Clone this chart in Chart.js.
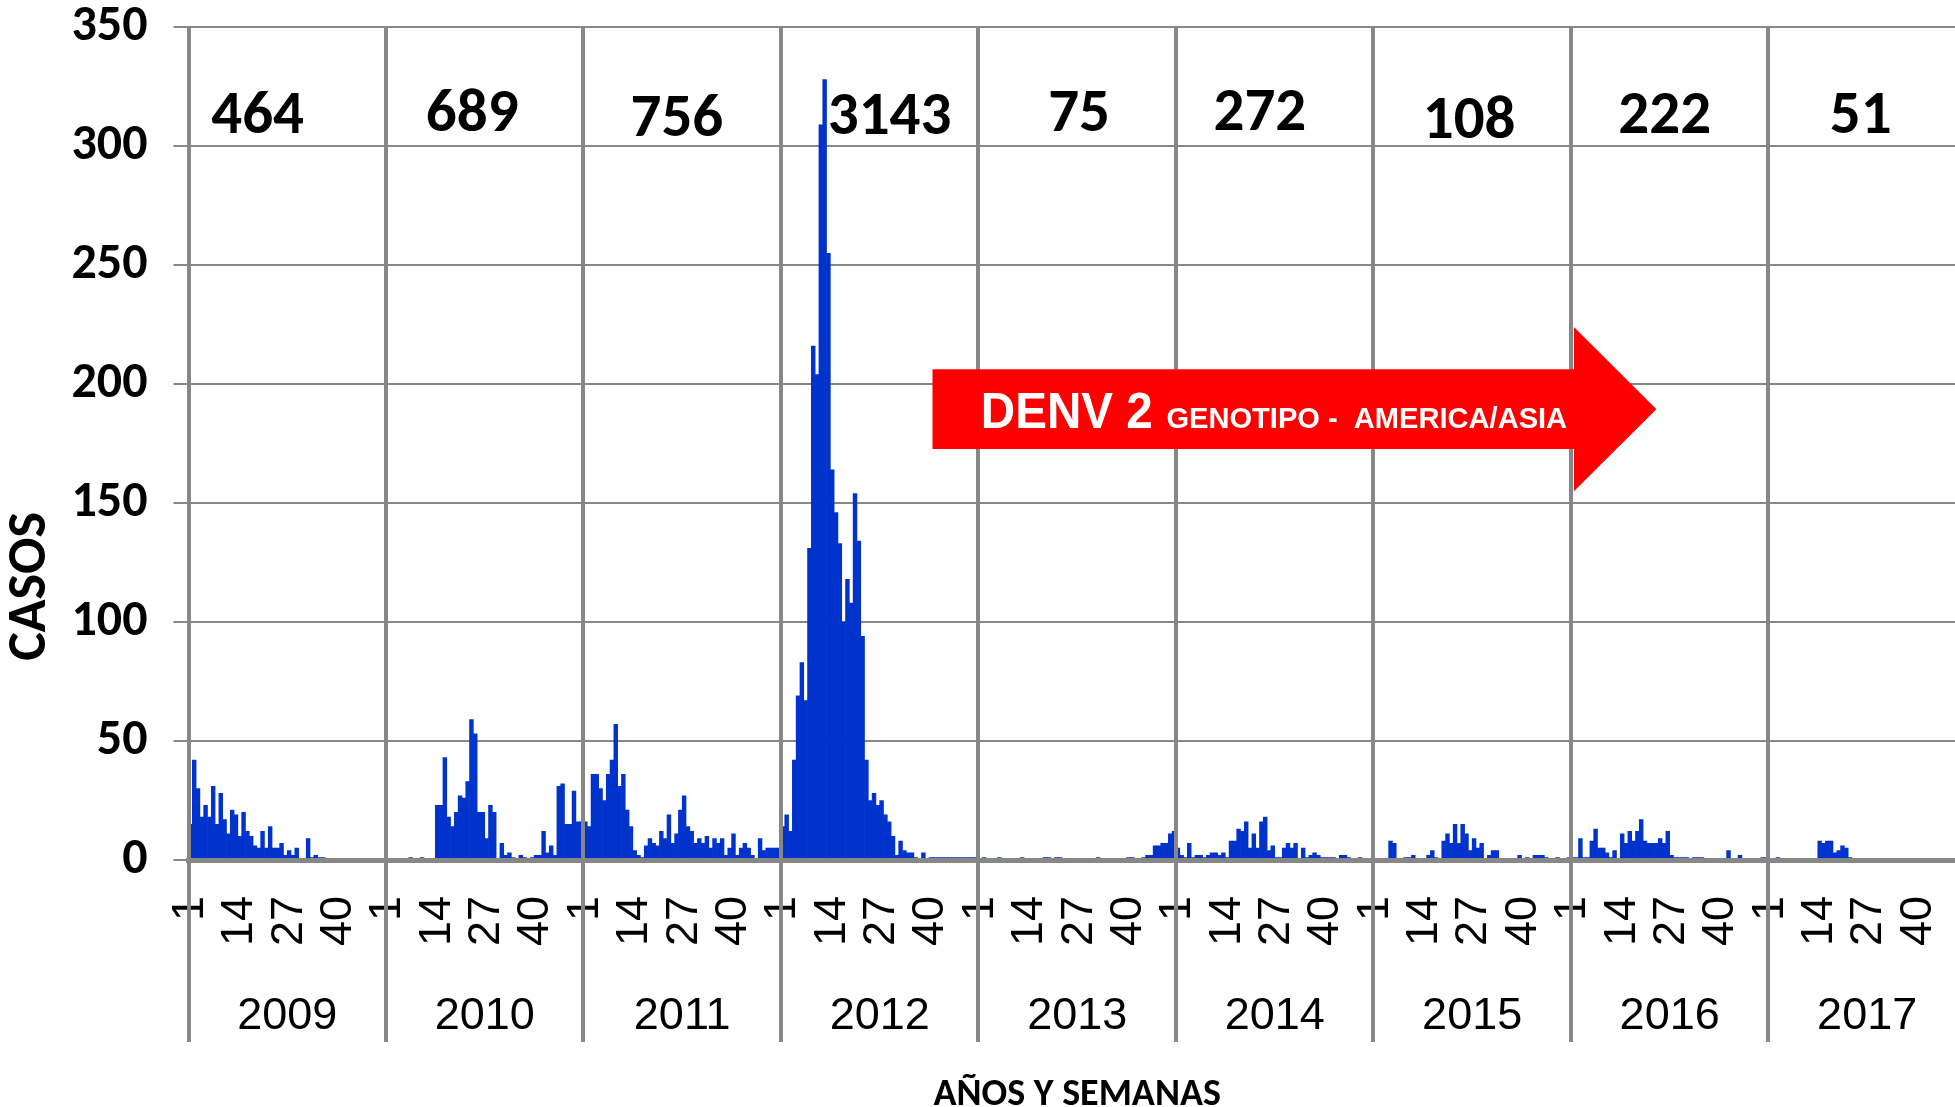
<!DOCTYPE html>
<html>
<head>
<meta charset="utf-8">
<script src="https://cdn.jsdelivr.net/npm/chart.js@4.4.1/dist/chart.umd.min.js"></script>
<style>
html,body{margin:0;padding:0;background:#fff;overflow:hidden;width:1955px;height:1107px}
#wrap{position:relative;width:1966px;height:1107px}
canvas{display:block}
</style>
</head>
<body>
<div id="wrap"><canvas id="chart" width="1966" height="1107"></canvas></div>
<script>
// ---------- DATA ----------
const years = ['2009','2010','2011','2012','2013','2014','2015','2016','2017'];
const weeksPerYear = 52;
const weekTickLabels = [1, 14, 27, 40];
const yearTotals = [464, 689, 756, 3143, 75, 272, 108, 222, 51];

const cases2009 = [15,42,30,18,23,18,31,15,28,17,11,21,19,10,20,12,10,6,5,12,5,14,5,5,7,2,4,2,5,0,0,9,1,2,1,1,0,0,0,0,0,0,0,0,0,0,0,0,0,0,0,0];
const cases2010 = [0,0,0,0,0,0,1,0,0,1,0,0,0,23,23,43,18,14,20,27,26,33,59,53,20,20,9,23,20,0,7,2,3,1,0,2,1,0,1,2,2,12,3,6,2,31,32,15,15,29,16,16];
const cases2011 = [16,14,36,36,30,25,36,42,57,31,36,21,14,4,2,1,6,9,7,6,12,9,19,7,11,21,27,14,12,7,9,7,10,5,9,7,9,2,5,11,2,5,7,5,2,0,9,4,5,5,5,5];
const cases2012 = [14,19,12,42,69,83,67,131,216,204,309,328,255,164,146,133,100,118,108,154,134,94,42,25,28,23,25,19,16,10,2,8,4,3,3,1,0,3,0,1,1,1,1,1,1,1,1,1,1,1,1,1];
const cases2013 = [0,1,0,0,0,1,0,0,0,0,0,1,0,0,0,0,0,1,1,0,1,1,0,0,0,0,0,0,0,0,0,1,0,0,0,0,0,0,0,1,1,0,0,1,2,2,6,6,7,7,11,12];
const cases2014 = [5,2,1,7,1,2,2,1,2,3,3,2,3,1,8,8,13,12,16,5,11,5,16,18,4,6,1,1,5,7,5,7,0,5,1,2,3,2,1,1,1,1,0,2,2,1,0,0,1,0,0,0];
const cases2015 = [0,0,0,0,8,7,0,0,1,1,2,0,0,0,2,4,1,0,8,11,7,15,7,15,11,4,9,5,7,0,2,4,4,0,0,0,0,0,2,0,1,0,2,2,2,1,0,0,1,0,0,1];
const cases2016 = [1,1,9,1,1,8,13,5,5,3,1,4,0,11,7,12,8,12,17,8,7,7,7,9,7,12,2,1,1,1,1,0,1,1,1,0,0,0,0,0,0,4,0,0,2,0,0,0,0,0,1,1];
const cases2017 = [0,0,1,0,0,0,0,0,0,0,0,0,0,8,7,8,8,3,4,6,5,1,0,0,0,0,0,0,0,0,0,0,0,0,0,0,0,0,0,0,0,0,0,0,0,0,0,0,0,0,0,0];

const yAxisMin = 0, yAxisMax = 350, yAxisStep = 50;
const arrowLabelMain = 'DENV 2';
const arrowLabelSub = 'GENOTIPO -  AMERICA/ASIA';
const yTitle = 'CASOS';
const xTitle = 'AÑOS Y SEMANAS';

// ---------- BUILD ----------
const seriesByYear = [cases2009,cases2010,cases2011,cases2012,cases2013,cases2014,cases2015,cases2016,cases2017];
const allCases = [].concat(...seriesByYear);
const catLabels = [];
years.forEach(y => { for (let w = 1; w <= weeksPerYear; w++) catLabels.push(y + '|' + w); });

function fontAvailable(name){
  const c = document.createElement('canvas').getContext('2d');
  const s = 'abcdefghijklmnopqrstuvwxyzABCDEFGHIJ0123456789';
  for (const base of ['monospace','serif']) {
    c.font = '32px ' + base; const w0 = c.measureText(s).width;
    c.font = '32px "' + name + '", ' + base;
    if (Math.abs(c.measureText(s).width - w0) > 0.01) return true;
  }
  return false;
}
const HAS_CARLITO = fontAvailable('Carlito');
const HAS_NARROW = fontAvailable('Liberation Sans Narrow');

const F_ARIAL = '"Liberation Sans", Arial, sans-serif';
const F_NARROW = HAS_NARROW ? '"Liberation Sans Narrow", sans-serif' : F_ARIAL;
// tiny lineHeight keeps Chart.js from reserving extra space above the top tick label
const yTickFont = HAS_CARLITO ? {family:'Carlito', size:50, weight:'bold', lineHeight:0.05} : {family:F_ARIAL, size:44, weight:'bold', lineHeight:0.05};
const totalFont = HAS_CARLITO ? 'bold 61px Carlito' : 'bold 56px ' + F_ARIAL;
const casosFont = HAS_CARLITO ? 'bold 54px Carlito' : (HAS_NARROW ? 'bold 49px ' + F_NARROW : 'bold 40px ' + F_ARIAL);
const xTitleFont = HAS_CARLITO ? {family:'Carlito', size:38, weight:'bold'} : (HAS_NARROW ? {family:F_NARROW, size:38, weight:'bold'} : {family:F_ARIAL, size:31, weight:'bold'});

const GRAY = '#878787';
const BLUE = '#0033CC';
const RED = '#FF0000';

// overlay layout (axis units: category position, case value)
const totalsLayout = [
  {w:17.7, v:312.1},{w:22.2, v:312.7},{w:24.1, v:310.6},{w:28.1, v:311.7},{w:26.0, v:312.7},
  {w:21.6, v:313.2},{w:24.7, v:310.0},{w:24.2, v:312.1},{w:23.8, v:312.1}
];
const arrowLayout = {start:195.4, head:364.3, tip:386.0, mid:189.5, body:16.8, headH:34.5,
  t1:208.1, t1End:253.4, t2:257.0, t2End:362.5, base:181.7, size1:50, size2:29};
const casosLayout = {x:31, v:115};

const overlayPlugin = {
  id: 'overlay',
  afterDraw(chart) {
    const {ctx} = chart;
    const xs = chart.scales.x, ys = chart.scales.y;
    const px = v => xs.getPixelForValue(v), py = v => ys.getPixelForValue(v);
    ctx.save();
    ctx.fillStyle = '#000'; ctx.font = totalFont; ctx.textAlign = 'center'; ctx.textBaseline = 'middle';
    yearTotals.forEach((t, i) => {
      const L = totalsLayout[i];
      ctx.fillText(String(t), px(i * weeksPerYear + L.w), py(L.v));
    });
    const a = arrowLayout;
    ctx.beginPath();
    ctx.moveTo(px(a.start), py(a.mid + a.body));
    ctx.lineTo(px(a.head), py(a.mid + a.body));
    ctx.lineTo(px(a.head), py(a.mid + a.headH));
    ctx.lineTo(px(a.tip), py(a.mid));
    ctx.lineTo(px(a.head), py(a.mid - a.headH));
    ctx.lineTo(px(a.head), py(a.mid - a.body));
    ctx.lineTo(px(a.start), py(a.mid - a.body));
    ctx.closePath();
    ctx.fillStyle = RED; ctx.fill();
    ctx.fillStyle = '#fff'; ctx.textAlign = 'left'; ctx.textBaseline = 'alphabetic';
    const drawFit = (txt, size, x0, x1) => {
      ctx.save();
      ctx.font = 'bold ' + size + 'px ' + F_NARROW;
      const w = ctx.measureText(txt).width;
      const target = px(x1) - px(x0);
      ctx.translate(px(x0), py(a.base));
      ctx.scale(target / w, 1);
      ctx.fillText(txt, 0, 0);
      ctx.restore();
    };
    drawFit(arrowLabelMain, a.size1, a.t1, a.t1End);
    drawFit(arrowLabelSub, a.size2, a.t2, a.t2End);
    ctx.save();
    ctx.translate(casosLayout.x, py(casosLayout.v));
    ctx.rotate(-Math.PI / 2);
    ctx.fillStyle = '#000'; ctx.font = casosFont; ctx.textAlign = 'center'; ctx.textBaseline = 'middle';
    ctx.fillText(yTitle, 0, 0);
    ctx.restore();
    ctx.restore();
  }
};

new Chart(document.getElementById('chart'), {
  type: 'bar',
  data: {
    labels: catLabels,
    datasets: [{
      data: allCases, backgroundColor: BLUE, borderWidth: 0,
      barPercentage: 1, categoryPercentage: 1, xAxisID: 'x', yAxisID: 'y'
    }]
  },
  options: {
    responsive: false, animation: false, devicePixelRatio: 1,
    layout: {padding: {top: 0, left: 0, right: 0, bottom: 0}},
    plugins: {legend: {display: false}, tooltip: {enabled: false}},
    scales: {
      x: {
        type: 'category', position: 'bottom', weight: 0, offset: true,
        grid: {
          offset: true, drawOnChartArea: true, drawTicks: true, tickLength: 88, z: 1,
          lineWidth: 4,
          color: c => (c.index !== undefined && c.index % weeksPerYear === 0) ? GRAY : 'rgba(0,0,0,0)'
        },
        border: {display: true, color: GRAY, width: 5, z: 1},
        ticks: {
          autoSkip: false, maxRotation: 90, minRotation: 90, padding: -52,
          color: '#000', font: {family: F_ARIAL, size: 45},
          callback: function(value) {
            const w = Number(String(this.getLabelForValue(value)).split('|')[1]);
            return weekTickLabels.includes(w) ? String(w) : '';
          }
        },
        afterFit: s => { s.height = 88; }
      },
      x2: {
        type: 'category', position: 'bottom', weight: 1, offset: true, labels: years,
        grid: {offset: true, drawOnChartArea: false, drawTicks: true, tickLength: 94, lineWidth: 4, color: GRAY},
        border: {display: false},
        ticks: {autoSkip: false, maxRotation: 0, minRotation: 0, padding: -52, color: '#000', font: {family: F_ARIAL, size: 45}},
        title: {display: true, text: xTitle, color: '#000', font: xTitleFont, padding: {top: 0, bottom: -11}},
        afterFit: s => { s.height = 159; }
      },
      y: {
        min: yAxisMin, max: yAxisMax,
        ticks: {stepSize: yAxisStep, padding: 26, color: '#000', font: yTickFont},
        grid: {color: GRAY, lineWidth: 2, tickLength: 15, drawTicks: true},
        border: {display: false},
        afterFit: s => { s.width = 188.5; }
      }
    }
  },
  plugins: [overlayPlugin]
});
</script>
</body>
</html>
